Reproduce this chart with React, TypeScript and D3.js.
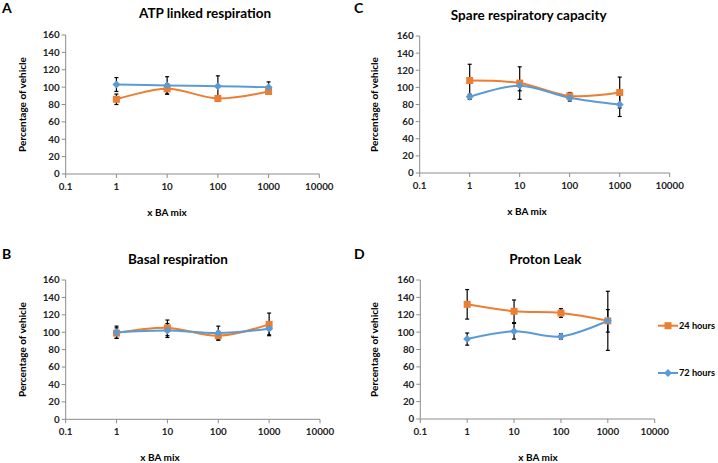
import * as React from "react";
import * as d3 from "d3";

// x values (BA mix dilution) and axis ticks
const doses = [1, 10, 100, 1000];
const xTicks = [0.1, 1, 10, 100, 1000, 10000];
const yTicks = [0, 20, 40, 60, 80, 100, 120, 140, 160];
const seriesNames = ["24 hours", "72 hours"];

// values (mean, error)
const atp24 = [86, 98, 87, 95];
const atp24Err = [6, 6, 3, 3];
const atp72 = [103, 102, 101, 100];
const atp72Err = [8, 10, 12, 6];

const basal24 = [99, 105, 96, 109];
const basal24Err = [6, 9, 5, 13];
const basal72 = [100, 102, 99, 104];
const basal72Err = [7, 8, 8, 7];

const spare24 = [108, 105, 90, 94];
const spare24Err = [19, 19, 4, 18];
const spare72 = [89, 102, 88, 80];
const spare72Err = [3, 6, 4, 14];

const leak24 = [132, 124, 122, 113];
const leak24Err = [17, 13, 5, 13];
const leak72 = [92, 101, 95, 113];
const leak72Err = [7, 9, 3, 34];

const ORANGE = "#ED7D31";
const BLUE = "#5B9BD5";
const AXIS = "#8c8c8c";
const FONT = "Lato, 'Open Sans', sans-serif";

interface PanelProps {
  letter: string;
  title: string;
  s24: number[];
  e24: number[];
  s72: number[];
  e72: number[];
  left: number;
  right: number;
  top: number;
  bottom: number;
  titleX: number;
  titleY: number;
  letterX: number;
  letterY: number;
  xLabelX: number;
  xLabelY: number;
  yLabelX: number;
}

function Panel(p: PanelProps) {
  const x = d3.scaleLog().domain([0.1, 10000]).range([p.left, p.right]);
  const y = d3.scaleLinear().domain([0, 160]).range([p.bottom, p.top]);
  const line = d3
    .line<number>()
    .curve(d3.curveCatmullRom.alpha(0.5))
    .x((d, i) => x(doses[i]))
    .y(d => y(d));

  const errBars = (vals: number[], errs: number[], key: string) =>
    vals.map((v, i) => {
      const cx = x(doses[i]);
      const y1 = y(v + errs[i]);
      const y2 = y(v - errs[i]);
      return (
        <g key={key + i} stroke="#000" strokeWidth={1.2}>
          <line x1={cx} x2={cx} y1={y1} y2={y2} />
          <line x1={cx - 2} x2={cx + 2} y1={y1} y2={y1} />
          <line x1={cx - 2} x2={cx + 2} y1={y2} y2={y2} />
        </g>
      );
    });

  return (
    <g>
      <text x={p.letterX} y={p.letterY} fontSize={14} fontWeight="bold" fontFamily={FONT}>
        {p.letter}
      </text>
      <text x={p.titleX} y={p.titleY} textAnchor="middle" fontSize={13.5} fontWeight="bold" fontFamily={FONT}>
        {p.title}
      </text>
      {/* y axis */}
      <line x1={p.left} x2={p.left} y1={p.top} y2={p.bottom} stroke={AXIS} strokeWidth={1} />
      {yTicks.map(t => (
        <g key={"y" + t}>
          <line x1={p.left - 4} x2={p.left} y1={y(t)} y2={y(t)} stroke={AXIS} />
          <text x={p.left - 6} y={y(t)} dy="0.35em" textAnchor="end" fontSize={9.8} fontWeight="bold" fontFamily={FONT} fill="#222">
            {t}
          </text>
        </g>
      ))}
      {/* x axis */}
      <line x1={p.left} x2={p.right} y1={p.bottom} y2={p.bottom} stroke={AXIS} strokeWidth={1} />
      {xTicks.map(t => (
        <g key={"x" + t}>
          <line x1={x(t)} x2={x(t)} y1={p.bottom} y2={p.bottom + 4} stroke={AXIS} />
          <text x={x(t)} y={p.bottom + 16} textAnchor="middle" fontSize={9.8} fontWeight="bold" fontFamily={FONT} fill="#222">
            {t}
          </text>
        </g>
      ))}
      <text x={p.xLabelX} y={p.xLabelY} textAnchor="middle" fontSize={10} fontWeight="bold" fontFamily={FONT}>
        x BA mix
      </text>
      <text
        transform={`translate(${p.yLabelX},${(p.top + p.bottom) / 2}) rotate(-90)`}
        textAnchor="middle"
        fontSize={10}
        fontWeight="bold"
        fontFamily={FONT}
      >
        Percentage of vehicle
      </text>
      {/* series */}
      <path d={line(p.s24) || ""} fill="none" stroke={ORANGE} strokeWidth={2} />
      <path d={line(p.s72) || ""} fill="none" stroke={BLUE} strokeWidth={2} />
      {errBars(p.s24, p.e24, "e24")}
      {errBars(p.s72, p.e72, "e72")}
      {p.s24.map((v, i) => (
        <rect key={"m24" + i} x={x(doses[i]) - 3.5} y={y(v) - 3.5} width={7} height={7} fill={ORANGE} />
      ))}
      {p.s72.map((v, i) => (
        <path key={"m72" + i} d={d3.symbol(d3.symbolDiamond2, 40)() || ""} transform={`translate(${x(doses[i])},${y(v)})`} fill={BLUE} />
      ))}
    </g>
  );
}

function Legend({ x0, y0, gap }: { x0: number; y0: number; gap: number }) {
  return (
    <g fontFamily={FONT} fontSize={9.2} fontWeight="bold">
      {seriesNames.map((name, i) => {
        const yy = y0 + i * gap;
        const color = i === 0 ? ORANGE : BLUE;
        return (
          <g key={name}>
            <line x1={x0} x2={x0 + 20} y1={yy} y2={yy} stroke={color} strokeWidth={2} />
            {i === 0 ? (
              <rect x={x0 + 6.5} y={yy - 3.5} width={7} height={7} fill={color} />
            ) : (
              <path d={d3.symbol(d3.symbolDiamond2, 40)() || ""} transform={`translate(${x0 + 10},${yy})`} fill={color} />
            )}
            <text x={x0 + 21} y={yy} dy="0.35em">
              {name}
            </text>
          </g>
        );
      })}
    </g>
  );
}

export default function App() {
  return (
    <div style={{ position: "absolute", left: 0, top: 0 }}>
      <svg width={718} height={463} style={{ display: "block", background: "#fff" }}>
        <Panel
          letter="A" title="ATP linked respiration"
          s24={atp24} e24={atp24Err} s72={atp72} e72={atp72Err}
          left={65.7} right={319.3} top={35} bottom={174}
          titleX={205} titleY={18} letterX={2} letterY={13}
          xLabelX={167} xLabelY={216} yLabelX={26}
        />
        <Panel
          letter="B" title="Basal respiration"
          s24={basal24} e24={basal24Err} s72={basal72} e72={basal72Err}
          left={65.7} right={320} top={280} bottom={419.3}
          titleX={178} titleY={264} letterX={2} letterY={259}
          xLabelX={160} xLabelY={461} yLabelX={26}
        />
        <Panel
          letter="C" title="Spare respiratory capacity"
          s24={spare24} e24={spare24Err} s72={spare72} e72={spare72Err}
          left={419.7} right={669.7} top={36} bottom={173}
          titleX={528.7} titleY={20} letterX={354} letterY={13}
          xLabelX={527} xLabelY={215} yLabelX={378}
        />
        <Panel
          letter="D" title="Proton Leak"
          s24={leak24} e24={leak24Err} s72={leak72} e72={leak72Err}
          left={420.3} right={654.7} top={280} bottom={419}
          titleX={545.3} titleY={264} letterX={354} letterY={259}
          xLabelX={538} xLabelY={461} yLabelX={378}
        />
        <Legend x0={658} y0={325.7} gap={47.3} />
      </svg>
    </div>
  );
}
